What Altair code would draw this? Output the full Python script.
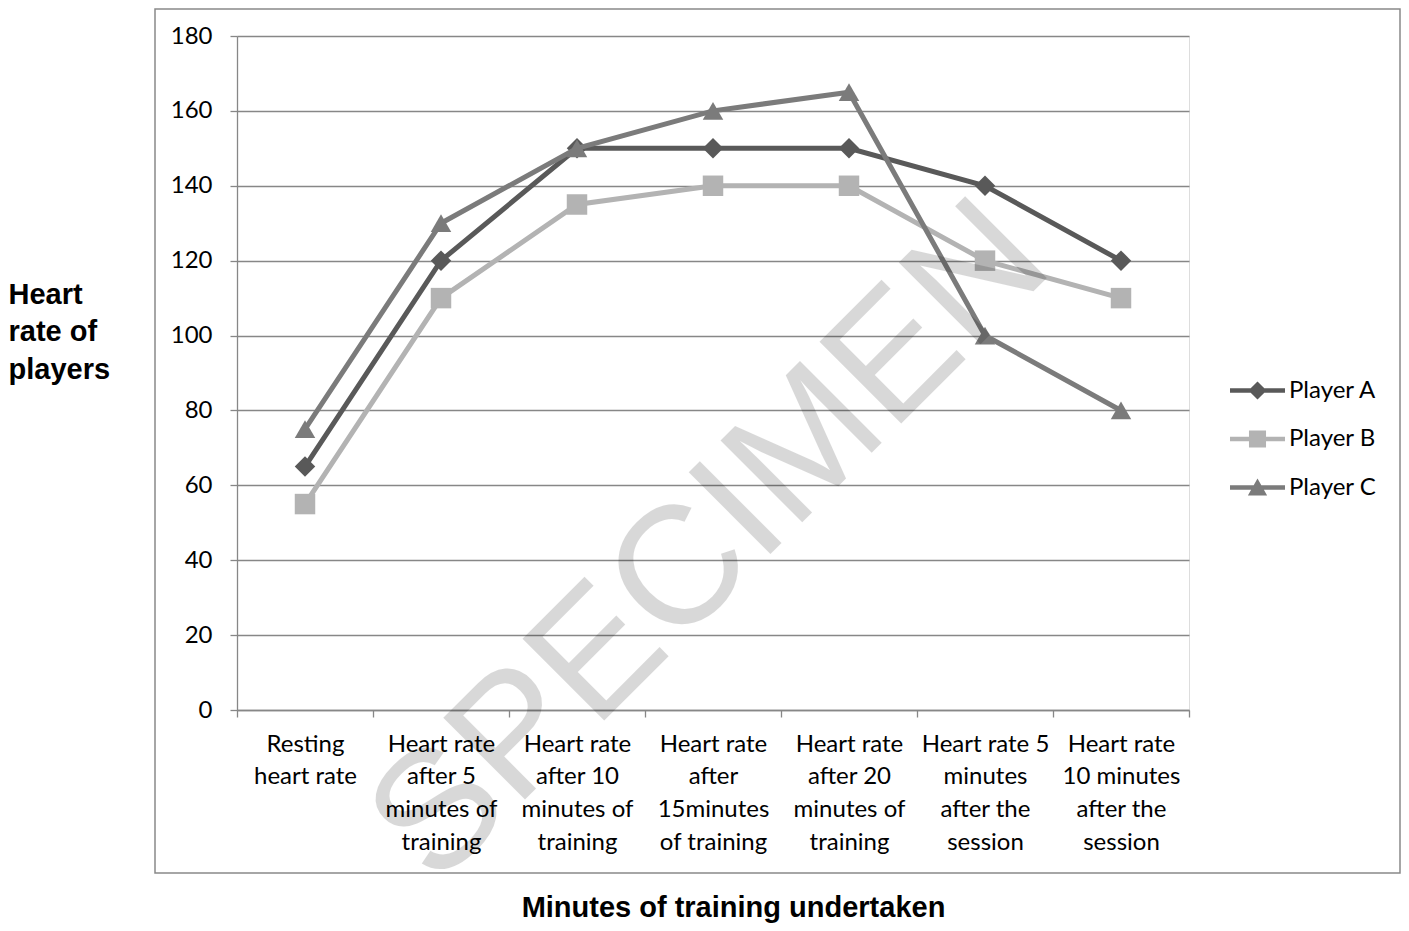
import altair as alt
import pandas as pd

categories = [
    "Resting\nheart rate",
    "Heart rate\nafter 5\nminutes of\ntraining",
    "Heart rate\nafter 10\nminutes of\ntraining",
    "Heart rate\nafter\n15minutes\nof training",
    "Heart rate\nafter 20\nminutes of\ntraining",
    "Heart rate 5\nminutes\nafter the\nsession",
    "Heart rate\n10 minutes\nafter the\nsession",
]
players = ["Player A", "Player B", "Player C"]
player_a = [65, 120, 150, 150, 150, 140, 120]
player_b = [55, 110, 135, 140, 140, 120, 110]
player_c = [75, 130, 150, 160, 165, 100, 80]
y_ticks = [0, 20, 40, 60, 80, 100, 120, 140, 160, 180]

colors = ["#595959", "#b3b3b3", "#7b7b7b"]
shapes = ["diamond", "square", "triangle-up"]

# legend symbols: a short line with the marker on it (unit-square SVG paths)
_bar = "M-1,-0.085L1,-0.085L1,0.085L-1,0.085Z"
legend_shapes = [
    _bar + "M0,-0.33L0.33,0L0,0.33L-0.33,0Z",
    _bar + "M-0.31,-0.31L0.31,-0.31L0.31,0.31L-0.31,0.31Z",
    _bar + "M0,-0.33L0.35,0.29L-0.35,0.29Z",
]

rows = []
for p, vals in zip(players, [player_a, player_b, player_c]):
    for i, (c, v) in enumerate(zip(categories, vals)):
        rows.append({"Player": p, "Category": c, "idx": i, "Value": v})
df = pd.DataFrame(rows)

FONT_LBL = "Lato"
FONT_TTL = "Liberation Sans"

x_enc = alt.X(
    "Category:N",
    sort=categories,
    scale=alt.Scale(domain=categories, paddingInner=0, paddingOuter=0),
    axis=alt.Axis(
        title="Minutes of training undertaken",
        titleX=496,
        titleY=206,
        titleAlign="center",
        titleBaseline="alphabetic",
        titleFont=FONT_TTL,
        titleFontSize=29,
        titleFontWeight="bold",
        titleColor="#000000",
        labelExpr="split(datum.label, '\\n')",
        labelFont=FONT_LBL,
        labelFontSize=24,
        labelLineHeight=32.7,
        labelBaseline="top",
        labelPadding=15,
        labelAngle=0,
        labelAlign="center",
        labelColor="#000000",
        labelOverlap=False,
        labelLimit=0,
        tickBand="extent",
        tickSize=7,
        tickColor="#878787",
        tickWidth=1.3,
        domainColor="#878787",
        domainWidth=1.3,
        grid=False,
    ),
)
y_enc = alt.Y(
    "Value:Q",
    scale=alt.Scale(domain=[0, 180], nice=False, zero=True),
    axis=alt.Axis(
        values=y_ticks,
        title=["Heart", "rate of", "players"],
        titleAngle=0,
        titleAlign="left",
        titleBaseline="alphabetic",
        titleX=-229,
        titleY=267,
        titleLineHeight=37.5,
        titleFont=FONT_TTL,
        titleFontSize=29,
        titleFontWeight="bold",
        titleColor="#000000",
        labelFont=FONT_LBL,
        labelFontSize=24,
        labelPadding=18,
        labelColor="#000000",
        tickSize=7,
        tickColor="#878787",
        tickWidth=1.3,
        domainColor="#878787",
        domainWidth=1.3,
        grid=True,
        gridColor="#878787",
        gridWidth=1.3,
    ),
)

base = alt.Chart(df)
layers = []
for p, col, shp in zip(players, colors, shapes):
    sub = base.transform_filter(alt.datum.Player == p)
    layers.append(
        sub.mark_line(color=col, strokeWidth=5).encode(
            x=x_enc, y=y_enc, order=alt.Order("idx:Q")
        )
    )
    layers.append(
        sub.mark_point(
            shape=shp, filled=True, color=col, size=420, opacity=1, strokeWidth=0
        ).encode(x=x_enc, y=y_enc)
    )

legend_cfg = dict(
    title=None,
    orient="none",
    legendX=993,
    legendY=327,
    labelFont=FONT_LBL,
    labelFontSize=24,
    labelColor="#000000",
    labelOffset=4,
    symbolSize=3025,
    symbolStrokeWidth=0,
    symbolOpacity=1,
    rowPadding=8.5,
    padding=0,
)

legend_layer = (
    base.transform_filter("false")
    .mark_point(filled=True, opacity=1, size=3025, strokeWidth=0)
    .encode(
        x=x_enc,
        y=y_enc,
        color=alt.Color(
            "Player:N",
            scale=alt.Scale(domain=players, range=colors),
            legend=alt.Legend(**legend_cfg),
        ),
        shape=alt.Shape(
            "Player:N",
            scale=alt.Scale(domain=players, range=legend_shapes),
            legend=alt.Legend(**legend_cfg),
        ),
    )
)

frame = (
    alt.Chart(pd.DataFrame({"k": [0]}))
    .mark_rect(fillOpacity=0, stroke="#898989", strokeWidth=1.5)
    .encode(
        x=alt.value(-82), x2=alt.value(1163), y=alt.value(-27), y2=alt.value(837)
    )
)

watermark = (
    alt.Chart(pd.DataFrame({"t": ["SPECIMEN"]}))
    .mark_text(
        font=FONT_TTL,
        fontSize=168,
        angle=315,
        align="center",
        baseline="middle",
        color="#000000",
        opacity=0.15,
    )
    .encode(text="t:N", x=alt.value(474), y=alt.value(507))
)

chart = (
    alt.layer(frame, *layers, legend_layer, watermark)
    .properties(
        width=952,
        height=674,
        autosize=alt.AutoSizeParams(type="none"),
        padding={"left": 229, "top": 28, "right": 212, "bottom": 213},
    )
    .configure_view(stroke=None)
    .configure(background="#ffffff")
)

chart.save("out.html", embed_options={"renderer": "svg", "actions": False})
